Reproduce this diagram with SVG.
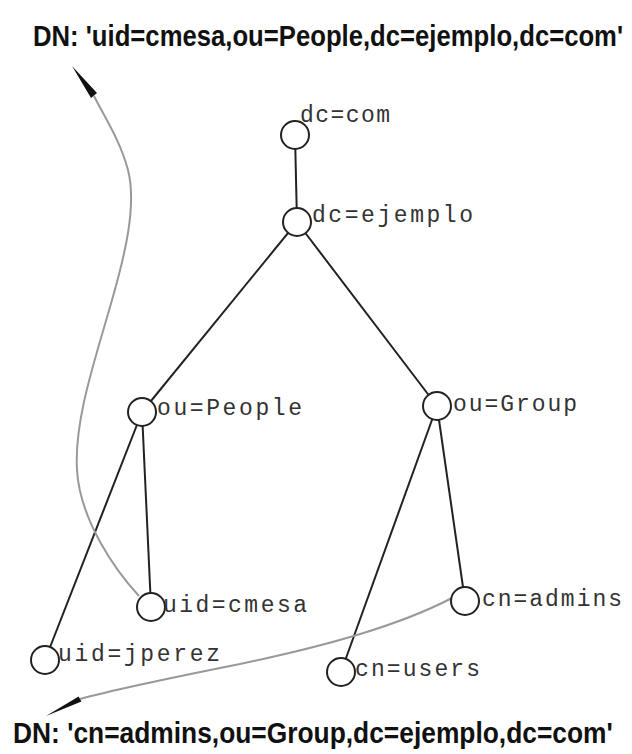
<svg xmlns="http://www.w3.org/2000/svg" width="632" height="754" viewBox="0 0 632 754">
<style>
.title{font-family:"Liberation Sans",Arial,sans-serif;font-weight:bold;font-size:29px;fill:#111}
.lbl{font-family:"Liberation Mono","Courier New",monospace;font-size:23px;fill:#333}
.edge{stroke:#222;stroke-width:2;fill:none}
.path{stroke:#999;stroke-width:2;fill:none}
.node circle{fill:#fff;stroke:#222;stroke-width:2}
.arrow{fill:#111}
</style>
<rect width="632" height="754" fill="#fff"/>
<text class="title" transform="translate(33,46) scale(0.886,1)">DN: 'uid=cmesa,ou=People,dc=ejemplo,dc=com'</text>
<text class="title" transform="translate(13,743) scale(0.909,1)">DN: 'cn=admins,ou=Group,dc=ejemplo,dc=com'</text>
<g id="connectors">
<line class="edge" x1="295" y1="135" x2="297" y2="222"/>
<line class="edge" x1="297" y1="222" x2="142" y2="412"/>
<line class="edge" x1="297" y1="222" x2="437" y2="406"/>
<line class="edge" x1="142" y1="412" x2="151" y2="607"/>
<line class="edge" x1="142" y1="412" x2="45" y2="660"/>
<line class="edge" x1="437" y1="406" x2="465" y2="601"/>
<line class="edge" x1="437" y1="406" x2="341" y2="672"/>
<path class="path" d="M139,596 C115,570 80,520 77,470 C74,420 95,360 112,300 C125,255 137,205 128,170 C120,140 105,118 94,96"/>
<polygon class="arrow" points="72,66 97,93 91,98"/>
<path class="path" d="M452,598 C400,625 330,645 240,664 C170,678 120,688 80,699"/>
<polygon class="arrow" points="46,716 81.4,701.6 78.6,696.4"/>
</g>
<g id="dc-com" class="node"><circle cx="295" cy="135" r="14"/><text class="lbl" x="300" y="122" textLength="90" lengthAdjust="spacing">dc=com</text></g>
<g id="dc-ejemplo" class="node"><circle cx="297" cy="222" r="14"/><text class="lbl" x="312" y="222" textLength="161" lengthAdjust="spacing">dc=ejemplo</text></g>
<g id="ou-people" class="node"><circle cx="142" cy="412" r="14"/><text class="lbl" x="157" y="415" textLength="145" lengthAdjust="spacing">ou=People</text></g>
<g id="ou-group" class="node"><circle cx="437" cy="406" r="14"/><text class="lbl" x="453" y="411" textLength="124" lengthAdjust="spacing">ou=Group</text></g>
<g id="uid-cmesa" class="node"><circle cx="151" cy="607" r="14"/><text class="lbl" x="163" y="612" textLength="144" lengthAdjust="spacing">uid=cmesa</text></g>
<g id="uid-jperez" class="node"><circle cx="45" cy="660" r="14"/><text class="lbl" x="58" y="661" textLength="162" lengthAdjust="spacing">uid=jperez</text></g>
<g id="cn-admins" class="node"><circle cx="465" cy="601" r="14"/><text class="lbl" x="482" y="606" textLength="140" lengthAdjust="spacing">cn=admins</text></g>
<g id="cn-users" class="node"><circle cx="341" cy="672" r="14"/><text class="lbl" x="355" y="676" textLength="125" lengthAdjust="spacing">cn=users</text></g>
</svg>
